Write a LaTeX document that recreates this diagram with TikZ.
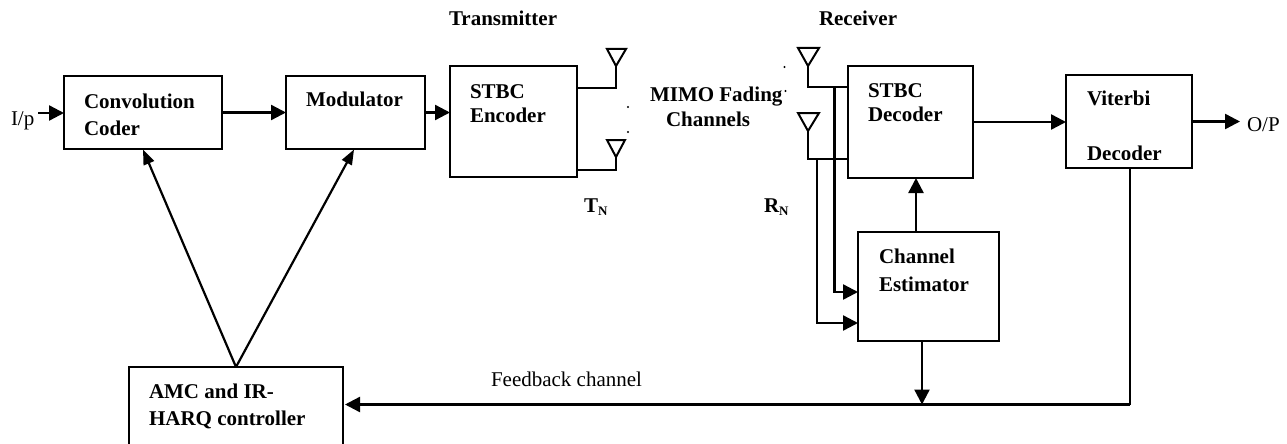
\documentclass[tikz,border=0pt]{standalone}
\usepackage{fontspec}
\setmainfont{Liberation Serif}
\usetikzlibrary{arrows.meta,calc}
\newcommand{\subN}{\raisebox{-3pt}{\fontsize{13}{13}\selectfont N}}
\tikzset{
  blockbox/.style={draw=black,line width=1.8pt,rectangle,inner sep=0pt,outer sep=0pt,fill=none},
  boldlabel/.style={anchor=base west,inner sep=0pt,outer sep=0pt,font=\fontsize{21}{21}\selectfont\bfseries},
  plainlabel/.style={anchor=base west,inner sep=0pt,outer sep=0pt,font=\fontsize{21}{21}\selectfont},
  wire/.style={draw=black,line width=2.4pt},
  flow/.style={wire,-{Triangle[length=15pt,width=15pt]}},
  slimflow/.style={draw=black,line width=2.2pt,-{Triangle[length=15pt,width=11pt]}},
  antenna/.style={draw=black,line width=2pt,line join=miter},
  tinydot/.style={circle,fill=black,inner sep=0pt,minimum size=2.4pt},
}
\begin{document}
\begin{tikzpicture}[x=1pt,y=-1pt]
\useasboundingbox (0,0) rectangle (1287,444);
\fill[white] (0,0) rectangle (1287,444);
% blocks
\node[blockbox,minimum width=158pt,minimum height=73pt] (conv) at (143,112.5) {};
\node[blockbox,minimum width=139pt,minimum height=73pt] (mod) at (355.5,112.5) {};
\node[blockbox,minimum width=127pt,minimum height=111pt] (enc) at (513.5,121.5) {};
\node[blockbox,minimum width=125pt,minimum height=112pt] (dec) at (910.5,122) {};
\node[blockbox,minimum width=126pt,minimum height=93pt] (vit) at (1129,121.5) {};
\node[blockbox,minimum width=141pt,minimum height=109pt] (est) at (928.5,286.5) {};
\node[blockbox,minimum width=214pt,minimum height=90pt] (amc) at (236,412) {};
% block texts
\node[boldlabel] (t1) at (84,108) {Convolution};
\node[boldlabel] (t2) at (84,135) {Coder};
\node[boldlabel] (t3) at (306,106) {Modulator};
\node[boldlabel] (t4) at (470,98) {STBC};
\node[boldlabel] (t5) at (470,122) {Encoder};
\node[boldlabel] (t6) at (868,97) {STBC};
\node[boldlabel] (t7) at (868,121) {Decoder};
\node[boldlabel] (t8) at (1087,105) {Viterbi};
\begin{scope}
\clip (1070,140) rectangle (1190,159);
\node[boldlabel] (t9) at (1087,160) {Decoder};
\end{scope}
\node[boldlabel] (t10) at (879,263) {Channel};
\node[boldlabel] (t11) at (879,291) {Estimator};
\node[boldlabel] (t12) at (149,398) {AMC and IR-};
\node[boldlabel] (t13) at (149,425) {HARQ controller};
% free labels
\node[boldlabel] (t14) at (449,26) {Transmitter};
\node[boldlabel] (t15) at (819,26) {Receiver};
\node[boldlabel] (t16) at (650,101) {MIMO Fading};
\node[boldlabel] (t17) at (666,126) {Channels};
\node[boldlabel] (t18) at (584,212) {T\subN};
\node[boldlabel] (t19) at (764,212) {R\subN};
\node[plainlabel] (t20) at (11,125) {I/p};
\node[plainlabel] (t21) at (1247,131) {O/P};
\node[plainlabel] (t22) at (491,386) {Feedback channel};
% dots
\node[tinydot] (d1) at (628,107) {};
\node[tinydot] (d2) at (628,132) {};
\node[tinydot] (d3) at (784.5,67) {};
\node[tinydot] (d4) at (785.5,91) {};
% junctions
\coordinate (inS) at (38,113);
\coordinate (outE) at (1240,121.5);
\coordinate (amcT) at (236,367);
\coordinate (convF) at (143,149.5);
\coordinate (modF) at (354,149.5);
\coordinate (tx1) at (616,66);
\coordinate (tx1b) at (616,88);
\coordinate (tx2) at (616,157);
\coordinate (tx2b) at (616,170);
\coordinate (rx1) at (808,66);
\coordinate (rx1b) at (808,87);
\coordinate (rx2) at (808,131);
\coordinate (rx2b) at (808,159);
\coordinate (upB) at (834.5,87);
\coordinate (upE) at (834.5,292);
\coordinate (loB) at (817,159);
\coordinate (loE) at (817,323);
\coordinate (estUp) at (916,232);
\coordinate (estDn) at (922,341);
\coordinate (busE) at (922,404.5);
\coordinate (vitD) at (1130,168);
\coordinate (busR) at (1130,404.5);
% connectors
\draw[flow] (inS) -- (inS -| conv.west);
\draw[flow] (conv.east) -- (mod.west);
\draw[flow] (mod.east) -- (mod.east -| enc.west);
\draw[flow] (dec.east) -- (dec.east -| vit.west);
\draw[flow] (vit.east) -- (outE);
\draw[slimflow] (amcT) -- (convF);
\draw[slimflow] (amcT) -- (modF);
% antennas
\draw[antenna] (607,49) -- (626,49) -- (tx1) -- cycle;
\draw[antenna] (607,140) -- (625,140) -- (tx2) -- cycle;
\draw[antenna] (798,48) -- (819,48) -- (rx1) -- cycle;
\draw[antenna] (798,113) -- (819,113) -- (rx2) -- cycle;
\draw[wire] (tx1) -- (tx1b) -- (tx1b -| enc.east);
\draw[wire] (tx2) -- (tx2b) -- (tx2b -| enc.east);
\draw[wire] (rx1) -- (rx1b) -- (rx1b -| dec.west);
\draw[wire] (rx2) -- (rx2b) -- (rx2b -| dec.west);
\draw[flow] (upB) -- (upE) -- (upE -| est.west);
\draw[flow] (loB) -- (loE) -- (loE -| est.west);
\draw[flow] (estUp) -- (estUp |- dec.south);
\draw[flow] (estDn) -- (busE);
\draw[wire] (vitD) -- (busR);
\draw[flow] (busR) -- ([xshift=2pt]busR -| amc.east);
\end{tikzpicture}
\end{document}
